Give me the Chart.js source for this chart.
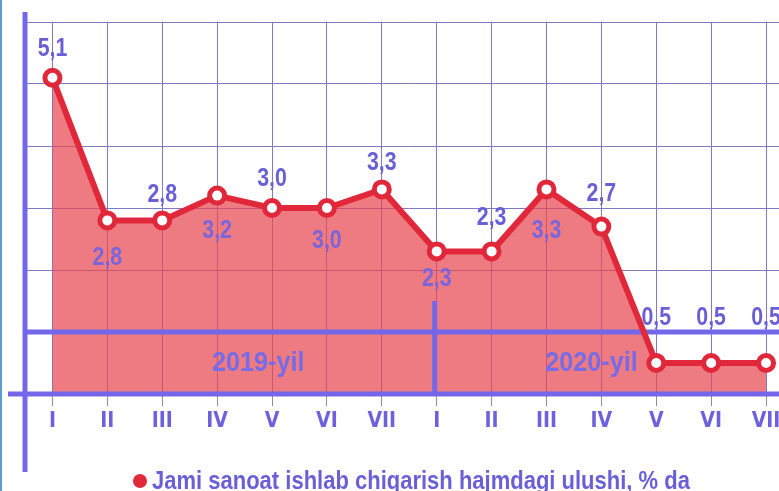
<!DOCTYPE html>
<html lang="uz">
<head>
<meta charset="UTF-8" />
<title>Sanoat ishlab chiqarish ulushi</title>
<script src="https://cdn.jsdelivr.net/npm/chart.js"></script>
<style>
  html, body { margin: 0; padding: 0; background: #fff; overflow: hidden; }
  .wrap { position: relative; width: 779px; height: 491px; overflow: hidden; }
  .wrap canvas { position: absolute; left: 0; top: 0; }
  .edge { position: absolute; left: 0; top: 0; width: 2px; height: 491px; background: #5b9bd5; }
</style>
</head>
<body>
<div class="wrap">
  <canvas id="shareChart" width="806" height="491"></canvas>
  <div class="edge"></div>
</div>
<script>
// months of 2019 (I-VII) and 2020 (I-VII)
const months = ["I", "II", "III", "IV", "V", "VI", "VII", "I", "II", "III", "IV", "V", "VI", "VII"];
const shareValues = [5.1, 2.8, 2.8, 3.2, 3.0, 3.0, 3.3, 2.3, 2.3, 3.3, 2.7, 0.5, 0.5, 0.5];
const yearNames = ["2019-yil", "2020-yil"];
const seriesName = "Jami sanoat ishlab chiqarish hajmdagi ulushi, % da";

// where each value label sits relative to its point (px, minus = above)
const labelShift = [-31, 36, -27, 33, -31, 31, -28, 26, -35, 40, -35, -47, -47, -47];

const SANS = '"Liberation Sans", Arial, sans-serif';
const PURPLE = "#7466e8";
const TEXT = "#6a5fd6";
const RED = "#e0283a";
const GRID = "#7f78c4";

// narrow bold text: Liberation Sans squeezed sideways
function narrowText(ctx, str, x, y, size, squeeze, align) {
    ctx.save();
    ctx.font = "bold " + size + "px " + SANS;
    ctx.textAlign = align || "center";
    ctx.textBaseline = "alphabetic";
    ctx.translate(x, y);
    ctx.scale(squeeze, 1);
    ctx.fillText(str, 0, 0);
    ctx.restore();
}

const overlay = {
    id: "overlay",
    // runs after the area fill, before the line is stroked
    beforeDatasetDraw(chart) {
        const { ctx, chartArea, scales } = chart;
        const x = scales.x, y = scales.y;
        ctx.save();
        ctx.strokeStyle = PURPLE;
        ctx.lineWidth = 5;
        ctx.beginPath();
        // level 1 band line
        ctx.moveTo(chartArea.left, y.getPixelForValue(1));
        ctx.lineTo(chart.width, y.getPixelForValue(1));
        // x axis
        ctx.moveTo(8, chartArea.bottom);
        ctx.lineTo(chart.width, chartArea.bottom);
        // year separator
        const sx = x.getPixelForValue(7) - 2;
        ctx.moveTo(sx, y.getPixelForValue(1.5));
        ctx.lineTo(sx, chartArea.bottom);
        // y axis
        ctx.moveTo(chartArea.left, 12);
        ctx.lineTo(chartArea.left, 472);
        ctx.stroke();

        ctx.fillStyle = "#786be6";
        const yy = y.getPixelForValue(0.53) + 10;
        narrowText(ctx, yearNames[0], x.getPixelForValue(3.75), yy, 28, 0.9);
        narrowText(ctx, yearNames[1], x.getPixelForValue(9.82), yy, 28, 0.9);
        ctx.restore();
    },
    afterDatasetsDraw(chart) {
        const { ctx } = chart;
        const meta = chart.getDatasetMeta(0);
        ctx.save();
        meta.data.forEach((pt, i) => {
            ctx.fillStyle = labelShift[i] > 0 ? "rgba(112,98,228,0.9)" : TEXT;
            const txt = shareValues[i].toFixed(1).replace(".", ",");
            narrowText(ctx, txt, pt.x, pt.y + labelShift[i] + 9, 26, 0.82);
        });
        ctx.restore();
    },
    afterDraw(chart) {
        // series key under the axis
        const { ctx } = chart;
        ctx.save();
        ctx.fillStyle = "#e02a3a";
        ctx.beginPath();
        ctx.arc(140, 481, 7, 0, Math.PI * 2);
        ctx.fill();
        ctx.fillStyle = TEXT;
        narrowText(ctx, seriesName, 152, 489, 25, 0.88, "left");
        ctx.restore();
    }
};

new Chart(document.getElementById("shareChart"), {
    type: "line",
    data: {
        labels: months,
        datasets: [{
            label: seriesName,
            data: shareValues,
            borderColor: RED,
            borderWidth: 6,
            backgroundColor: "rgba(232, 72, 82, 0.72)",
            fill: "origin",
            tension: 0,
            pointRadius: 7.5,
            pointBorderWidth: 5,
            pointBackgroundColor: "#ffffff",
            pointBorderColor: RED
        }]
    },
    options: {
        responsive: false,
        animation: false,
        layout: { padding: { left: 25, right: 11, top: 22, bottom: 0 } },
        scales: {
            x: {
                offset: true,
                grid: { color: GRID, lineWidth: 1, tickLength: 12, tickColor: "#8d8aa6" },
                border: { display: false },
                ticks: {
                    color: "#6e62dc",
                    font: { family: '"DejaVu Sans Condensed", "DejaVu Sans", sans-serif', size: 21, weight: "bold" },
                    padding: 3,
                    maxRotation: 0,
                    autoSkip: false
                },
                afterFit(s) { s.height = 97; }
            },
            y: {
                min: 0,
                max: 6,
                ticks: { display: false, stepSize: 1 },
                grid: { color: GRID, lineWidth: 1, drawTicks: false },
                border: { display: false },
                afterFit(s) { s.width = 0; }
            }
        },
        plugins: {
            legend: { display: false },
            tooltip: { enabled: false }
        }
    },
    plugins: [overlay]
});
</script>
</body>
</html>
